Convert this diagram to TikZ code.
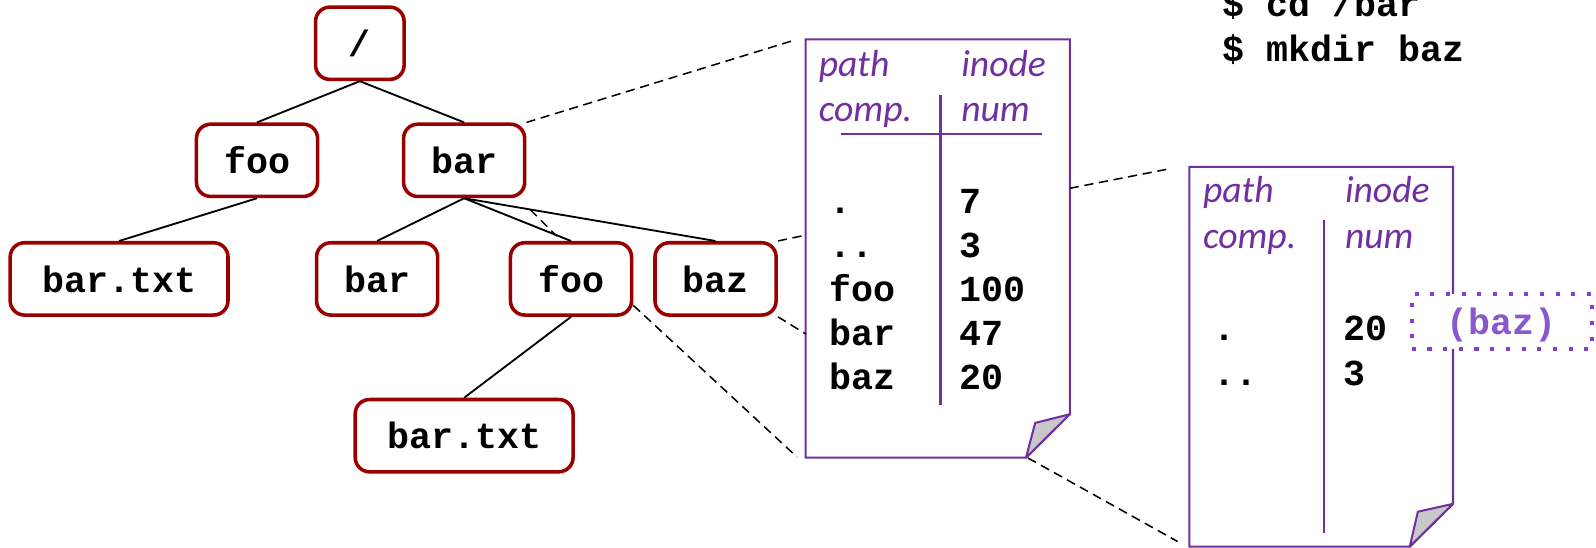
\documentclass[tikz,border=0pt]{standalone}
\usepackage{fontspec}
\setmonofont{Liberation Mono}
\setsansfont{Carlito}
\definecolor{boxred}{RGB}{153,0,0}
\definecolor{docpurple}{RGB}{112,48,160}
\definecolor{tagpurple}{RGB}{128,64,208}
\definecolor{tagtext}{RGB}{136,88,204}
\definecolor{foldgray}{RGB}{200,200,200}
\tikzset{
  fsbox/.style={draw=boxred, line width=1.75pt, rounded corners=7pt, fill=white,
    minimum height=35.5pt, inner sep=0pt,
    font=\ttfamily\bfseries\fontsize{18}{20}\selectfont},
  treeedge/.style={line width=0.9pt},
  zoomlink/.style={line width=0.75pt, dash pattern=on 4.5pt off 2.8pt},
  docpage/.style={draw=docpurple, line width=1pt, fill=white},
  docfold/.style={draw=docpurple, line width=1pt, fill=foldgray, line join=round},
  docrule/.style={draw=docpurple, line width=1pt},
  colhead/.style={anchor=base west, inner sep=0pt, text=docpurple,
    font=\sffamily\itshape\fontsize{18.5}{20}\selectfont},
  entry/.style={anchor=base west, inner sep=0pt,
    font=\ttfamily\bfseries\fontsize{18}{20}\selectfont},
  tagbox/.style={draw=tagpurple, fill=white, line width=2pt,
    dash pattern=on 2pt off 5.7pt, minimum width=88.3pt, minimum height=27pt,
    inner sep=0pt},
  tagname/.style={anchor=base, inner sep=0pt, text=tagtext,
    font=\ttfamily\bfseries\fontsize{18}{20}\selectfont},
}
\begin{document}
\begin{tikzpicture}[x=0.5pt, y=-0.5pt]
\useasboundingbox (0,0) rectangle (1568,538);

% ---- directory tree ----
\node[fsbox, minimum width=43.5pt] (root) at (353.5,42.5) {/};
\node[fsbox, minimum width=59.5pt] (foo) at (252.5,157.5) {foo};
\node[fsbox, minimum width=59.5pt] (bar) at (456,157.5) {bar};
\node[fsbox, minimum width=107pt] (foobartxt) at (117,274) {bar.txt};
\node[fsbox, minimum width=59.5pt] (barbar) at (370.5,274) {bar};
\node[fsbox, minimum width=59.5pt] (barfoo) at (561,274) {foo};
\node[fsbox, minimum width=59.5pt] (barbaz) at (703,274) {baz};
\node[fsbox, minimum width=107pt] (barfoobartxt) at (456,428) {bar.txt};

\draw[treeedge] (root.south) -- (foo.north);
\draw[treeedge] (root.south) -- (bar.north);
\draw[treeedge] (foo.south) -- (foobartxt.north);
\draw[treeedge] (bar.south) -- (barbar.north);
\draw[treeedge] (bar.south) -- (barfoo.north);
\draw[treeedge] (bar.south) -- (barbaz.north);
\draw[treeedge] (barfoo.south) -- (barfoobartxt.north);

% ---- directory file of /bar ----
\coordinate (d1nw) at (791.5,38.6);
\coordinate (d1ne) at (1051,38.6);
\coordinate (d1fr) at (1051,407);
\coordinate (d1fb) at (1008,449.6);
\coordinate (d1fc) at (1017,415.5);
\coordinate (d1sw) at (791.5,449.6);
\draw[docpage] (d1nw) -- (d1ne) -- (d1fr) -- (d1fb) -- (d1sw) -- cycle;
\draw[docfold] (d1fb) -- (d1fc) -- (d1fr) -- cycle;
\draw[docrule] (924,93.3) -- (924,398);
\draw[docrule] (826,132) -- (1024,132);

\node[colhead] (d1path) at (804,75.3) {path};
\node[colhead] (d1comp) at (804,119) {comp.};
\node[colhead] (d1inode) at (944,75.3) {inode};
\node[colhead] (d1num) at (944,119) {num};

\node[entry] (d1n1) at (815,209.6) {.};
\node[entry] (d1i1) at (942,209.6) {7};
\node[entry] (d1n2) at (815,253) {..};
\node[entry] (d1i2) at (942,253) {3};
\node[entry] (d1n3) at (815,296.4) {foo};
\node[entry] (d1i3) at (942,296.4) {100};
\node[entry] (d1n4) at (815,339.7) {bar};
\node[entry] (d1i4) at (942,339.7) {47};
\node[entry] (d1n5) at (815,383) {baz};
\node[entry] (d1i5) at (942,383) {20};

% ---- directory file of /bar/baz ----
\coordinate (d2nw) at (1168.4,164);
\coordinate (d2ne) at (1427.5,164);
\coordinate (d2fr) at (1427.5,495);
\coordinate (d2fb) at (1385,537);
\coordinate (d2fc) at (1393,502.7);
\coordinate (d2sw) at (1168.4,537);
\draw[docpage] (d2nw) -- (d2ne) -- (d2fr) -- (d2fb) -- (d2sw) -- cycle;
\draw[docfold] (d2fb) -- (d2fc) -- (d2fr) -- cycle;
\draw[docrule] (1300.7,216.5) -- (1300.7,524);

\node[colhead] (d2path) at (1181.5,199.3) {path};
\node[colhead] (d2comp) at (1181.5,244) {comp.};
\node[colhead] (d2inode) at (1321,199.3) {inode};
\node[colhead] (d2num) at (1321,244) {num};

\node[entry] (d2n1) at (1192,335) {.};
\node[entry] (d2i1) at (1320,335) {20};
\node[entry] (d2n2) at (1192,378.5) {..};
\node[entry] (d2i2) at (1320,378.5) {3};

% own name, not yet stored in the parent
\node[tagbox] (tag) at (1475.3,316) {};
\node[tagname] (tagtxt) at (1475.3,329) {(baz)};

% ---- shell commands ----
\node[entry] (cmd1) at (1201,16.4) {\$ cd /bar};
\node[entry] (cmd2) at (1201,60.6) {\$ mkdir baz};

% ---- zoom links ----
\coordinate (z1) at (782,39);
\coordinate (z2) at (791.5,231);
\coordinate (z3) at (791.5,328);
\coordinate (z4) at (783,449);
\coordinate (z5a) at (1051,185);
\coordinate (z5b) at (1148,166);
\coordinate (z6a) at (1010,450);
\coordinate (z6b) at (1157,532);
\coordinate (z7a) at (521,206);
\coordinate (z7b) at (547,232);
\draw[zoomlink] (bar.north east) -- (z1);
\draw[zoomlink] (barbaz.north east) -- (z2);
\draw[zoomlink] (barbaz.south east) -- (z3);
\draw[zoomlink] (barfoo.-23.6) -- (z4);
\draw[zoomlink] (z5a) -- (z5b);
\draw[zoomlink] (z6a) -- (z6b);
\draw[zoomlink] (z7a) -- (z7b);
\end{tikzpicture}
\end{document}
